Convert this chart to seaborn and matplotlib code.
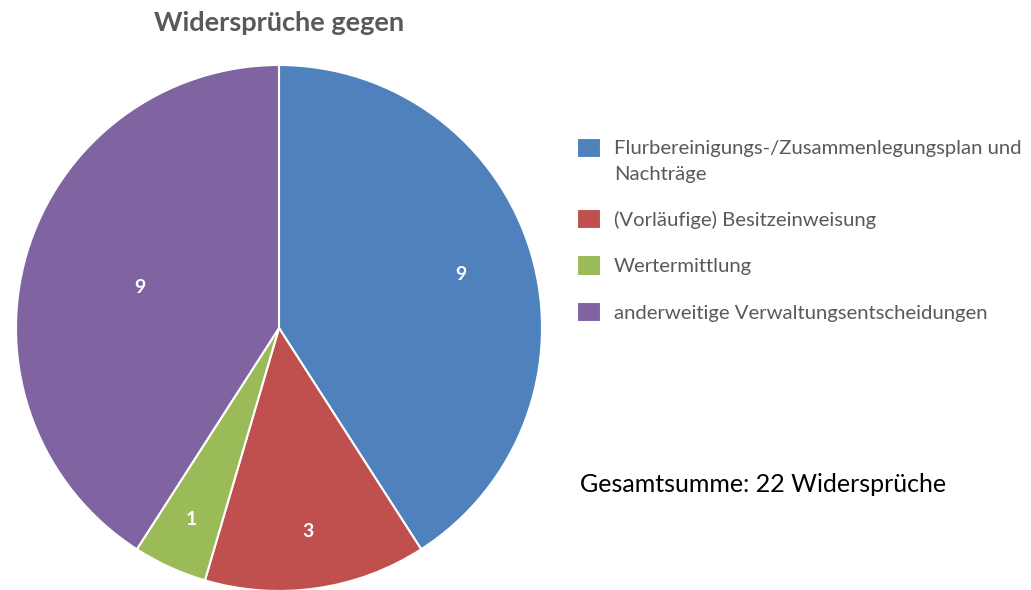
import seaborn as sns
import matplotlib.pyplot as plt
import numpy as np

# data
categories = ["Flurbereinigungs-/Zusammenlegungsplan und\nNachträge",
              "(Vorläufige) Besitzeinweisung",
              "Wertermittlung",
              "anderweitige Verwaltungsentscheidungen"]
counts = [9, 3, 1, 9]
colors = ["#4F81BD", "#C0504D", "#9BBB59", "#8064A2"]
label_dist = [0.72, 0.78, 0.80, 0.55]

sns.set_theme(style="white")
plt.rcParams['font.family'] = ['Lato', 'DejaVu Sans']

fig = plt.figure(figsize=(10.31, 5.9), dpi=100)
ax = fig.add_axes([16/1031, -1/590, 526/1031, 526/590])

wedges, texts = ax.pie(counts, colors=colors, startangle=90, counterclock=False,
                       labels=[str(c) for c in counts], labeldistance=0.72,
                       wedgeprops=dict(edgecolor="white", linewidth=1.5),
                       textprops=dict(color="white", fontweight="bold", fontsize=14))
# move labels like excel's best fit
for w, t, d in zip(wedges, texts, label_dist):
    a = np.deg2rad((w.theta1 + w.theta2) / 2)
    t.set_position((d * np.cos(a), d * np.sin(a)))
    t.set_ha("center")
    t.set_va("center")
ax.set_xlim(-1, 1)
ax.set_ylim(-1, 1)
ax.set_aspect("equal")

fig.text(279/1031, 1 - 23/590, "Widersprüche gegen", ha="center", va="center",
         fontsize=19.5, fontweight="bold", color="#595959")

leg = fig.legend(wedges, categories, loc="upper left", bbox_to_anchor=(559/1031, 1 - 122/590),
                 frameon=False, fontsize=14.6, handlelength=1.15, handleheight=1.15,
                 handletextpad=0.65, labelspacing=1.3)
for t in leg.get_texts():
    t.set_color("#595959")
    t.set_linespacing(1.6)
# square of the two-line entry sits on the first line
h0 = leg.legend_handles[0]
h0.set_y(h0.get_y() + 9.5)

fig.text(580/1031, 1 - 484/590, "Gesamtsumme: 22 Widersprüche", ha="left", va="center",
         fontsize=18, color="black")

fig.savefig("out.png", dpi=100)
